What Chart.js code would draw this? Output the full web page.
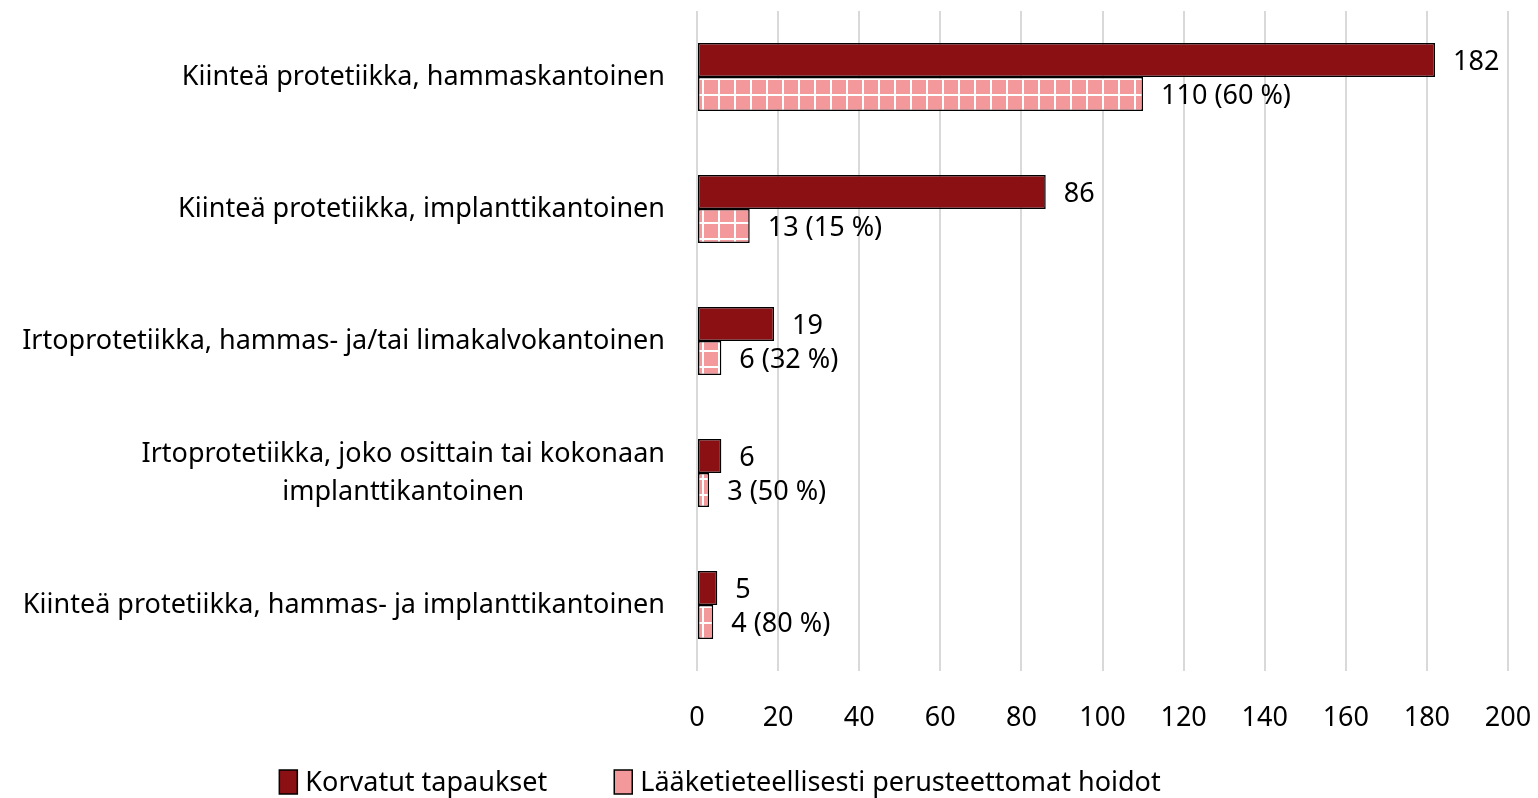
<!DOCTYPE html>
<html>
<head>
<meta charset="utf-8">
<script src="https://cdn.jsdelivr.net/npm/chart.js@4"></script>
<style>
  html, body { margin: 0; padding: 0; background: #fff; }
  #wrap { width: 1538px; height: 798px; }
</style>
</head>
<body>
<div id="wrap"><canvas id="chart" width="1538" height="798"></canvas></div>
<script>
const categories = [
  ['Kiinteä protetiikka, hammaskantoinen'],
  ['Kiinteä protetiikka, implanttikantoinen'],
  ['Irtoprotetiikka, hammas- ja/tai limakalvokantoinen'],
  ['Irtoprotetiikka, joko osittain tai kokonaan', 'implanttikantoinen'],
  ['Kiinteä protetiikka, hammas- ja implanttikantoinen']
];
const korvatut = [182, 86, 19, 6, 5];
const perusteettomat = [110, 13, 6, 3, 4];
const osuudet = ['60 %', '15 %', '32 %', '50 %', '80 %'];
const seriesNames = ['Korvatut tapaukset', 'Lääketieteellisesti perusteettomat hoidot'];
const xTicks = [0, 20, 40, 60, 80, 100, 120, 140, 160, 180, 200];

const FONT = '"Noto Sans", "Open Sans", sans-serif';
const FS = 27;
const DARK = '#8b1014';
const PINK = '#f4999b';

// ruudukkokuvio vaaleille pylväille
function makePattern() {
  const c = document.createElement('canvas');
  c.width = 16; c.height = 16;
  const g = c.getContext('2d');
  g.fillStyle = PINK;
  g.fillRect(0, 0, 16, 16);
  g.fillStyle = '#ffffff';
  g.fillRect(14, 0, 2, 16);
  g.fillRect(0, 14, 16, 2);
  return document.getElementById('chart').getContext('2d').createPattern(c, 'repeat');
}
const pinkPattern = makePattern();

const labelPlugin = {
  id: 'labels',
  afterDatasetsDraw(chart) {
    const ctx = chart.ctx;
    ctx.save();
    ctx.font = FS + 'px ' + FONT;
    ctx.fillStyle = '#000';
    ctx.textBaseline = 'middle';
    ctx.textAlign = 'left';
    chart.data.datasets.forEach((ds, di) => {
      chart.getDatasetMeta(di).data.forEach((bar, i) => {
        const txt = di === 0 ? String(ds.data[i]) : ds.data[i] + ' (' + osuudet[i] + ')';
        ctx.fillText(txt, bar.x + 18, bar.y + 2);
      });
    });
    // kategorianimet
    const y = chart.scales.y;
    const right = chart.chartArea.left - 32;
    categories.forEach((lines, i) => {
      const cy = y.getPixelForValue(i);
      const lh = 38;
      const maxW = Math.max(...lines.map(l => ctx.measureText(l).width));
      lines.forEach((l, k) => {
        const ly = cy + (k - (lines.length - 1) / 2) * lh;
        if (lines.length === 1) {
          ctx.textAlign = 'right';
          ctx.fillText(l, right, ly);
        } else {
          ctx.textAlign = 'center';
          ctx.fillText(l, right - maxW / 2, ly);
        }
      });
    });
    // selite
    ctx.textAlign = 'left';
    const ly = 782;
    const widths = seriesNames.map(n => 19 + 7 + ctx.measureText(n).width);
    let x = 720 - (widths[0] + widths[1] + 67) / 2;
    seriesNames.forEach((n, i) => {
      ctx.fillStyle = i === 0 ? DARK : PINK;
      ctx.fillRect(x, ly - 12, 18, 24);
      ctx.strokeStyle = '#000';
      ctx.lineWidth = 1.5;
      ctx.strokeRect(x, ly - 12, 18, 24);
      ctx.fillStyle = '#000';
      ctx.fillText(n, x + 26, ly + 1);
      x += widths[i] + 67;
    });
    ctx.restore();
  }
};

new Chart(document.getElementById('chart'), {
  type: 'bar',
  data: {
    labels: categories.map(c => c.join(' ')),
    datasets: [
      {
        label: seriesNames[0],
        data: korvatut,
        backgroundColor: DARK,
        borderColor: '#000',
        borderWidth: 1.5,
        borderSkipped: false,
        categoryPercentage: 0.515,
        barPercentage: 1
      },
      {
        label: seriesNames[1],
        data: perusteettomat,
        backgroundColor: pinkPattern,
        borderColor: '#000',
        borderWidth: 1.5,
        borderSkipped: false,
        categoryPercentage: 0.515,
        barPercentage: 1
      }
    ]
  },
  options: {
    indexAxis: 'y',
    responsive: false,
    animation: false,
    layout: { padding: { left: 0, right: 30, top: 11, bottom: 0 } },
    scales: {
      x: {
        min: 0,
        max: 200,
        afterBuildTicks: s => { s.ticks = xTicks.map(v => ({ value: v })); },
        afterFit: s => { s.paddingRight = 0; s.paddingLeft = 0; s.height = 127; },
        grid: { color: '#d9d9d9', lineWidth: 2, drawTicks: false },
        border: { display: false },
        ticks: { color: '#000', font: { size: FS, family: FONT }, padding: 31 }
      },
      y: {
        afterFit: s => { s.width = 697; },
        grid: { display: false },
        border: { display: false },
        ticks: { display: false }
      }
    },
    plugins: {
      legend: { display: false },
      tooltip: { enabled: false }
    }
  },
  plugins: [labelPlugin]
});
</script>
</body>
</html>
